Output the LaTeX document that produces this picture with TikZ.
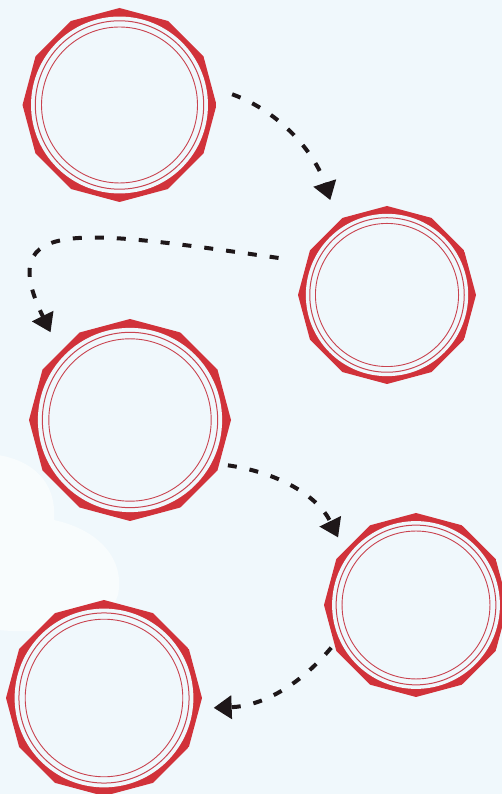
\documentclass[tikz,border=0pt]{standalone}
\usepackage{xcolor}
\usepackage{tikz}
\usetikzlibrary{arrows.meta}
\definecolor{paper}{HTML}{F0F8FC}
\definecolor{haze}{HTML}{F8FCFD}
\definecolor{sealred}{HTML}{D1323A}
\definecolor{ringred}{HTML}{C94450}
\definecolor{ink}{HTML}{1E1719}

\begin{document}
\begin{tikzpicture}[
  x=1pt, y=1pt,
  seal/.style={circle, minimum size=#1, inner sep=0pt, path picture={
    \begin{scope}[shift={(path picture bounding box.center)}]
      \fill[sealred] (0:#1/2) \foreach \a in {30,60,...,330}{-- (\a:#1/2)} -- cycle;
      \fill[paper] (0,0) circle[radius=0.456*#1];
      \draw[ringred, line width=1pt] (0,0) circle[radius=0.434*#1];
      \draw[ringred, line width=0.9pt] (0,0) circle[radius=0.402*#1];
    \end{scope}}},
  flow/.style={draw=ink, line width=4pt, dash pattern=on 9pt off 13pt, -{Triangle[length=18pt, width=23pt]}}]
  \useasboundingbox (0,0) rectangle (502,794);
  \clip (0,0) rectangle (502,794);
  \fill[paper] (0,0) rectangle (502,794);
  \fill[haze] (-2,339) .. controls (30,334) and (57,314) .. (54,274) .. controls (100,264) and (125,234) .. (118,199) .. controls (110,169) and (50,159) .. (-2,164) -- cycle;
  \node[seal=194pt] (ring1) at (119.5,689) {};
  \node[seal=178pt] (ring2) at (387,499) {};
  \node[seal=202pt] (ring3) at (130,374) {};
  \node[seal=184pt] (ring4) at (416,189) {};
  \node[seal=196pt] (ring5) at (104,96) {};
  \draw[flow, shorten <=18pt, shorten >=22pt] (ring1.10) to[out=-20, in=108] (ring2.124);
  \draw[flow, shorten <=26pt, shorten >=18pt] (ring2.158) .. controls +(172:225) and +(116:148) .. (ring3.135);
  \draw[flow, shorten <=7pt, shorten >=12pt] (ring3.-26) to[out=-8, in=116] (ring4.142);
  \draw[flow, shorten <=3pt, shorten >=12pt] (ring4.206) to[out=230, in=2] (ring5.-6);
\end{tikzpicture}
\end{document}
